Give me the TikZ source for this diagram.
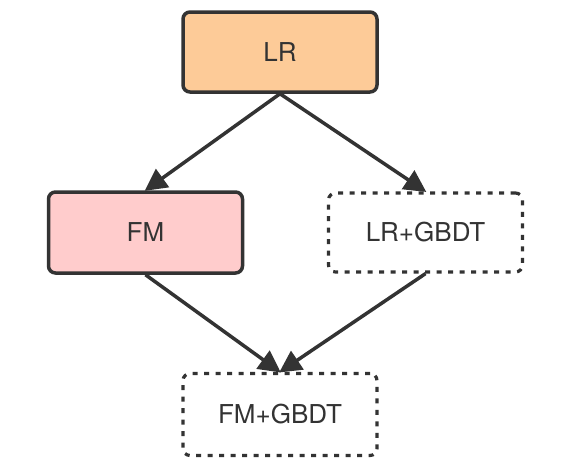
\documentclass[tikz,border=0pt]{standalone}
\usepackage{fontspec}
\setmainfont{TeX Gyre Heros}
\usetikzlibrary{arrows.meta}
\definecolor{edge}{HTML}{333333}
\definecolor{lrfill}{HTML}{FDCB98}
\definecolor{fmfill}{HTML}{FFCCCC}
\tikzset{
  box/.style={draw=edge, line width=3.5pt, rounded corners=7pt, minimum width=194pt, minimum height=80pt, text=edge, font=\fontsize{26pt}{30pt}\selectfont, inner sep=0pt},
  dotbox/.style={box, line width=3.2pt, dash pattern=on 5pt off 6.5pt, fill=white},
  conn/.style={draw=edge, line width=3.5pt, -{Triangle[length=22pt,width=22pt]}, shorten >=-1pt}
}
\begin{document}
\begin{tikzpicture}[x=1pt,y=-1pt]
\useasboundingbox (0,0) rectangle (572,464);
\node[box, fill=lrfill] (lr) at (280,52) {LR};
\node[box, fill=fmfill, minimum height=81pt] (fm) at (145.5,232.5) {FM};
\node[dotbox, minimum height=79pt] (lrg) at (425.5,232.5) {LR+GBDT};
\node[dotbox, minimum height=82pt] (fmg) at (280,414.5) {FM+GBDT};
\draw[conn] (lr.south) -- (fm.north);
\draw[conn] (lr.south) -- (lrg.north);
\draw[conn] (fm.south) -- (fmg.north);
\draw[conn] (lrg.south) -- (fmg.north);
\end{tikzpicture}
\end{document}
